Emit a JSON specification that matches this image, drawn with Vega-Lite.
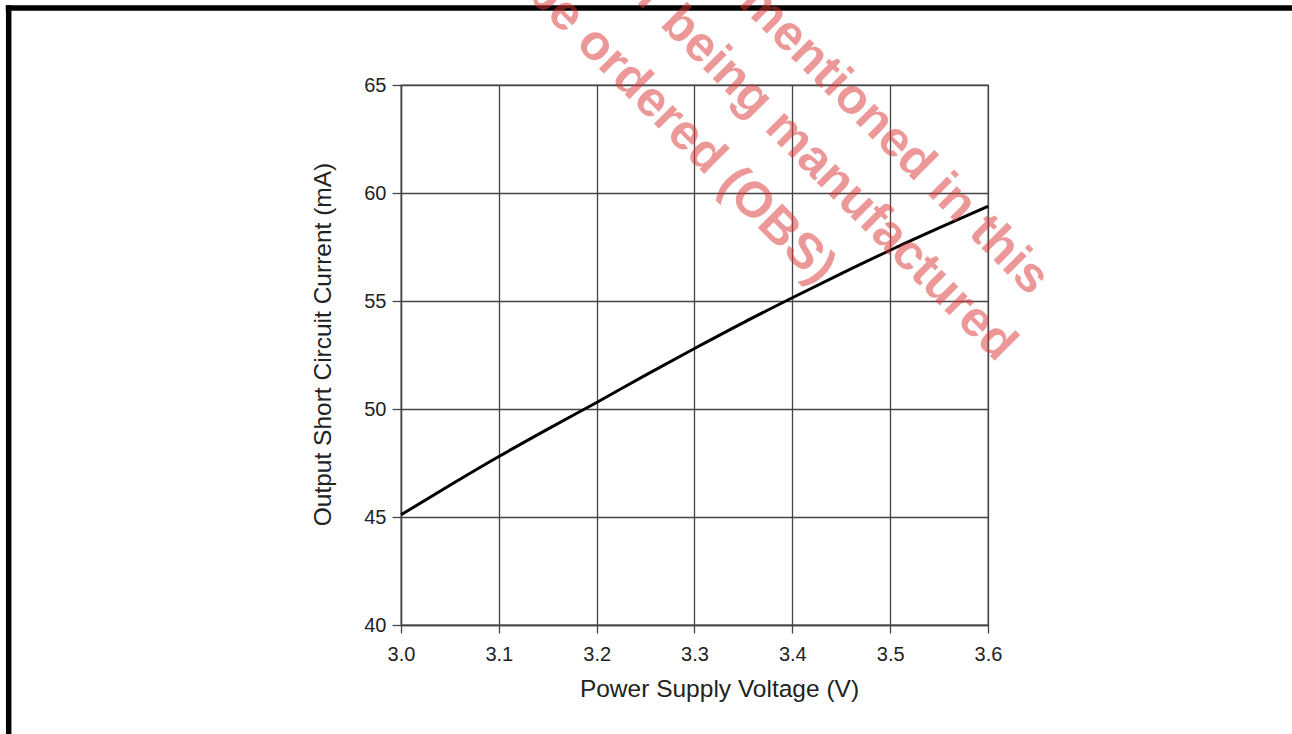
{
  "$schema": "https://vega.github.io/schema/vega-lite/v6.json",
  "width": 587,
  "height": 540,
  "autosize": "none",
  "padding": {"left": 401, "top": 85, "right": 304, "bottom": 109},
  "background": "white",
  "datasets": {
    "curve": [
      {"voltage": 3.00, "current": 45.1},
      {"voltage": 3.05, "current": 46.47},
      {"voltage": 3.10, "current": 47.8},
      {"voltage": 3.15, "current": 49.07},
      {"voltage": 3.20, "current": 50.3},
      {"voltage": 3.25, "current": 51.57},
      {"voltage": 3.30, "current": 52.8},
      {"voltage": 3.35, "current": 54.0},
      {"voltage": 3.40, "current": 55.15},
      {"voltage": 3.45, "current": 56.27},
      {"voltage": 3.50, "current": 57.35},
      {"voltage": 3.55, "current": 58.38},
      {"voltage": 3.60, "current": 59.38}
    ],
    "frame": [
      {"voltage": 2.596, "voltage2": 3.95, "current": 68.565, "current2": 68.565},
      {"voltage": 2.599, "voltage2": 2.599, "current": 68.69, "current2": 34}
    ],
    "watermark": [
      {"voltage": 3.4247, "current": 55.68, "label": "and cannot be ordered (OBS)"},
      {"voltage": 3.6092, "current": 52.13, "label": "are no longer being manufactured"},
      {"voltage": 3.643, "current": 55.19, "label": "The product(s) mentioned in this"}
    ]
  },
  "encoding": {
    "x": {
      "field": "voltage",
      "type": "quantitative",
      "scale": {"domain": [3.0, 3.6], "nice": false, "zero": false},
      "axis": {
        "title": "Power Supply Voltage (V)",
        "values": [3.0, 3.1, 3.2, 3.3, 3.4, 3.5, 3.6],
        "format": ".1f",
        "tickSize": 8,
        "labelPadding": 11,
        "labelFlush": false,
        "titleX": 318,
        "titleY": 71,
        "titleBaseline": "alphabetic",
        "titleAlign": "center"
      }
    },
    "y": {
      "field": "current",
      "type": "quantitative",
      "scale": {"domain": [40, 65], "nice": false, "zero": false},
      "axis": {
        "title": "Output Short Circuit Current (mA)",
        "values": [40, 45, 50, 55, 60, 65],
        "tickSize": 9,
        "labelPadding": 6,
        "labelFlush": false,
        "titleAngle": 270,
        "titleX": -71,
        "titleY": 259,
        "titleBaseline": "alphabetic",
        "titleAlign": "center"
      }
    }
  },
  "layer": [
    {
      "data": {"name": "curve"},
      "mark": {"type": "line", "color": "black", "strokeWidth": 3, "interpolate": "monotone"}
    },
    {
      "data": {"name": "frame"},
      "mark": {"type": "rule", "color": "black", "strokeWidth": 5.5, "clip": false},
      "encoding": {
        "x2": {"field": "voltage2"},
        "y2": {"field": "current2"}
      }
    },
    {
      "data": {"name": "watermark"},
      "mark": {
        "type": "text",
        "angle": 45,
        "align": "right",
        "baseline": "alphabetic",
        "font": "Liberation Sans",
        "fontSize": 50,
        "fontWeight": "bold",
        "color": "#dd3333",
        "opacity": 0.5,
        "clip": false
      },
      "encoding": {
        "text": {"field": "label"}
      }
    }
  ],
  "config": {
    "view": {"stroke": "#555555", "strokeWidth": 1.3},
    "axis": {
      "grid": true,
      "gridColor": "#444444",
      "gridOpacity": 1,
      "gridWidth": 1.3,
      "domainColor": "#444444",
      "domainWidth": 1.3,
      "tickColor": "#444444",
      "tickWidth": 1.3,
      "labelFont": "Liberation Sans",
      "labelFontSize": 20,
      "labelColor": "#222222",
      "titleFont": "Liberation Sans",
      "titleFontSize": 24.5,
      "titleFontWeight": "normal",
      "titleColor": "#222222"
    }
  }
}
